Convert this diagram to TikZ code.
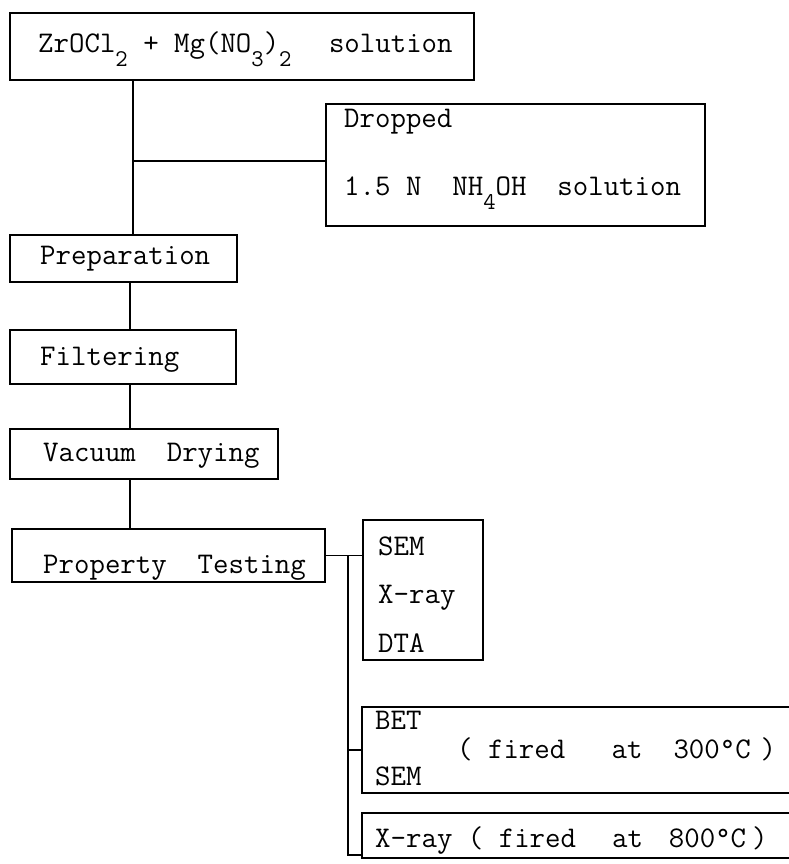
\documentclass[tikz,border=0pt]{standalone}
\usetikzlibrary{calc}
\newcommand\lsub[1]{\raisebox{-14pt}{\fontsize{24}{24}\selectfont #1}}
\begin{document}
\begin{tikzpicture}[x=1pt,y=-1pt,
  box/.style={draw, line width=1.8pt, inner sep=0pt},
  lbl/.style={anchor=base west, inner sep=0pt, font=\ttfamily\fontsize{30}{36}\selectfont},
  conn/.style={line width=1.8pt}]
\useasboundingbox (0,0) rectangle (789,864);
\clip (0,0) rectangle (789,864);
% boxes
\node[box, minimum width=464, minimum height=67] (top) at (242,46.5) {};
\node[box, minimum width=379, minimum height=122] (drop) at (515.5,165) {};
\node[box, minimum width=227, minimum height=47] (prep) at (123.5,258.5) {};
\node[box, minimum width=226, minimum height=54] (filt) at (123,357) {};
\node[box, minimum width=268, minimum height=50] (vac) at (144,454) {};
\node[box, minimum width=313, minimum height=53] (pt) at (168.5,555.5) {};
\node[box, minimum width=120, minimum height=140] (sem) at (423,590) {};
\node[box, minimum width=438, minimum height=86] (bet) at (581,750) {};
\node[box, minimum width=438, minimum height=45] (xr) at (581,835.5) {};
% texts
\node[lbl] (t1) at (38,53) {ZrOCl\lsub{2} + Mg(NO\lsub{3})\lsub{2}~\hspace{22pt}solution};
\node[lbl] (d1) at (344,128) {Dropped};
\node[lbl] (d2) at (344,195) {1.5~N~~NH\lsub{4}OH~~solution};
\node[lbl] (p1) at (40,264) {Preparation};
\node[lbl] (f1) at (40,365) {Filtering};
\node[lbl] (v1) at (43,461) {Vacuum~~Drying};
\node[lbl] (pt1) at (43,573) {Property~~Testing};
\node[lbl] (s1) at (378,555) {SEM};
\node[lbl] (s2) at (378,603) {X-ray};
\node[lbl] (s3) at (378,652) {DTA};
\node[lbl] (b1) at (375,729) {BET};
\node[lbl] (b2) at (375,785) {SEM};
\node[lbl] (b3) at (457,758) {(~fired~~~at~~300\textdegree C\hspace{10pt})};
\node[lbl] (x1) at (375,847) {X-ray~(~fired\hspace{36pt}at\hspace{26pt}800\textdegree C\hspace{6pt})};
% connectors
\coordinate (lxa) at (133,0);
\coordinate (lx) at (130,0);
\coordinate (hy) at (0,161);
\coordinate (tx) at (348,0);
\coordinate (xb) at (0,855);
\draw[conn] (lxa |- top.south) -- (lxa |- prep.north);
\draw[conn] (lxa |- hy) -- (drop.west |- hy);
\draw[conn] (lx |- prep.south) -- (lx |- filt.north);
\draw[conn] (lx |- filt.south) -- (lx |- vac.north);
\draw[conn] (lx |- vac.south) -- (lx |- pt.north);
\draw[conn] (pt.east) -- (pt.east -| sem.west);
\draw[conn] (tx |- pt.east) -- (tx |- xb) -- (xr.west |- xb);
\draw[conn] (tx |- bet.west) -- (bet.west);
\end{tikzpicture}
\end{document}
